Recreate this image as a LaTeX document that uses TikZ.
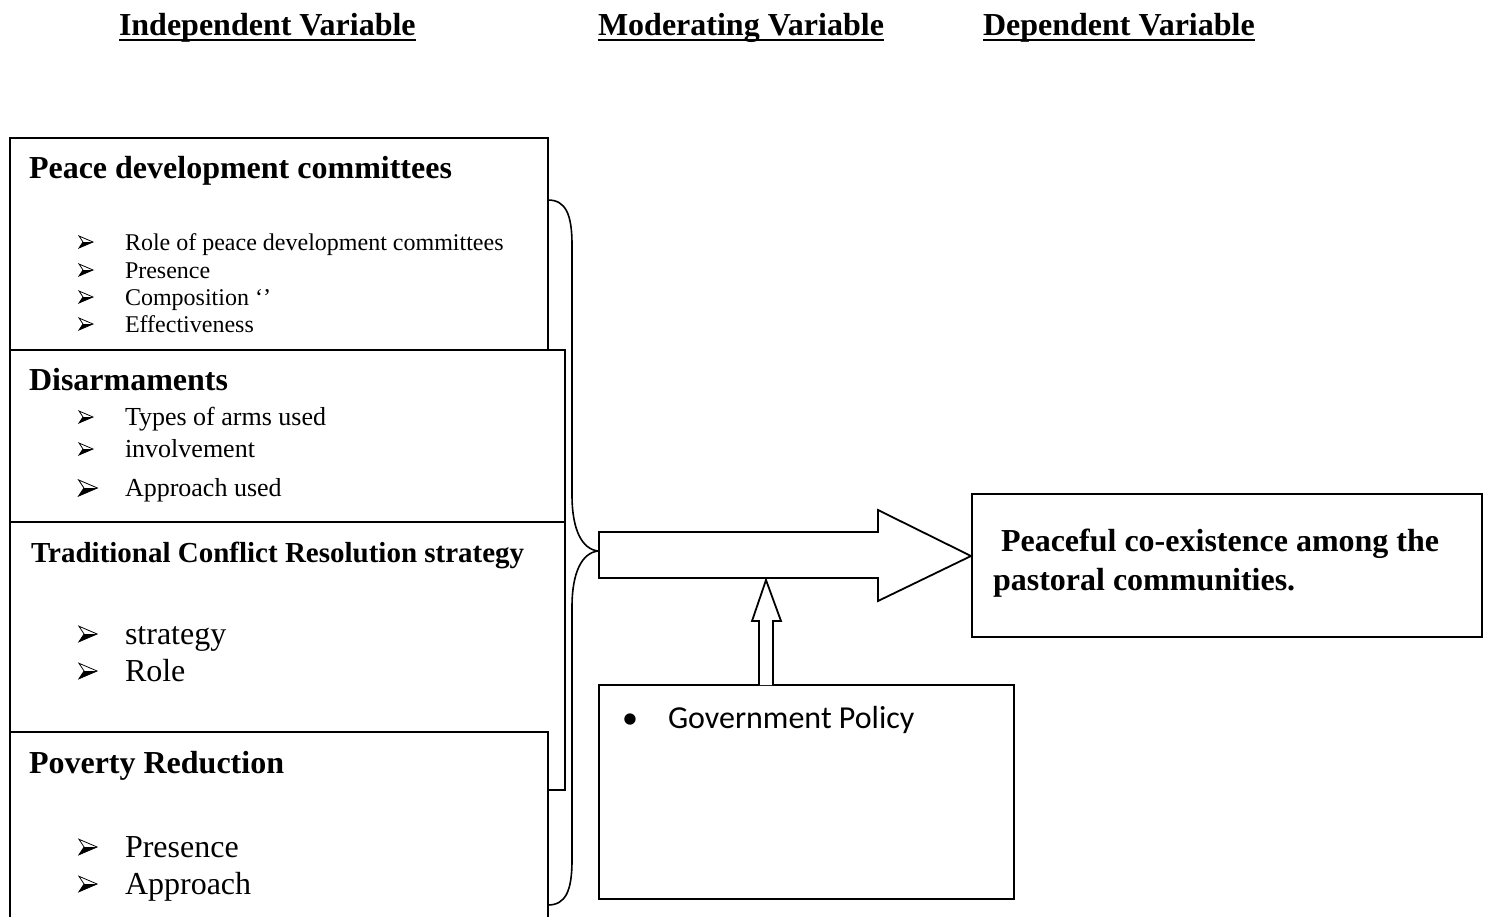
\documentclass[tikz,border=0pt]{standalone}
\usepackage{fontspec}
\setmainfont{Liberation Serif}
\newfontfamily\calfont{Carlito}
\begin{document}
\begin{tikzpicture}[x=0.5pt,y=-0.5pt,
  box/.style={draw=black,line width=1pt,fill=white,anchor=north west,inner sep=0pt,outer sep=0pt},
  txt/.style={anchor=base west,inner sep=0pt,outer sep=0pt},
  head/.style={txt,font=\fontsize{16}{19}\selectfont\bfseries},
  uline/.style={line width=1.2pt},
  ttl/.style={txt,font=\fontsize{16}{19}\selectfont\bfseries},
  itemA/.style={txt,font=\fontsize{12}{14}\selectfont},
  itemB/.style={txt,font=\fontsize{13}{15}\selectfont},
  itemC/.style={txt,font=\fontsize{16}{19}\selectfont},
  bul/.pic={
    \fill[black] (7,0) -- (-3,0) -- (-7,6) -- cycle;
    \draw[black,line width=0.4pt,line join=miter] (7,0) -- (-7,-6) -- (-3,0) -- (-7,6) -- cycle;
  }]
\useasboundingbox (0,0) rectangle (1491,916);
% headers
\node[head] (h1) at (119,35) {Independent Variable};
\node[head] (h2) at (598,35) {Moderating Variable};
\node[head] (h3) at (983,35) {Dependent Variable};
\foreach \h in {h1,h2,h3}
  \draw[uline] ([yshift=-2.6pt]\h.base west) -- ([yshift=-2.6pt]\h.base east);
% boxes
\begin{scope}
\clip (0,0) rectangle (1491,916);
\node[box,minimum width=269pt,minimum height=106pt] (b1) at (10,138) {};
\node[box,minimum width=277.5pt,minimum height=86pt] (b2) at (10,350) {};
\node[box,minimum width=277.5pt,minimum height=134pt] (b3) at (10,522) {};
\node[box,minimum width=269pt,minimum height=96pt] (b4) at (10,732) {};
\end{scope}
% box 1 text
\node[ttl] (t1) at (29,178) {Peace development committees};
\pic at (86,242) {bul};
\pic at (86,270) {bul};
\pic at (86,297) {bul};
\pic at (86,324) {bul};
\node[itemA] (i11) at (125,250) {Role of peace development committees};
\node[itemA] (i12) at (125,278) {Presence};
\node[itemA] (i13) at (125,305) {Composition `'};
\node[itemA] (i14) at (125,332) {Effectiveness};
% box 2 text
\node[ttl] (t2) at (29,390) {Disarmaments};
\pic at (86,417) {bul};
\pic at (86,449) {bul};
\pic[scale=1.35] at (88,488) {bul};
\node[itemB] (i21) at (125,425) {Types of arms used};
\node[itemB] (i22) at (125,457) {involvement};
\node[itemB] (i23) at (125,496) {Approach used};
% box 3 text
\node[ttl,font=\fontsize{14.5}{17}\selectfont\bfseries] (t3) at (31,562) {Traditional Conflict Resolution strategy};
\pic[scale=1.3] at (88,634) {bul};
\pic[scale=1.3] at (88,671) {bul};
\node[itemC] (i31) at (125,644) {strategy};
\node[itemC] (i32) at (125,681) {Role};
% box 4 text
\node[ttl] (t4) at (29,773) {Poverty Reduction};
\pic[scale=1.3] at (88,847) {bul};
\pic[scale=1.3] at (88,884) {bul};
\node[itemC] (i41) at (125,857) {Presence};
\node[itemC] (i42) at (125,894) {Approach};
% brace
\coordinate (btop) at (548,200);
\coordinate (btip) at (598,551);
\coordinate (bbot) at (548,905);
\draw[line width=0.8pt] (btop) .. controls (566,200) and (572,215) .. (572,245)
  -- (572,495) .. controls (572,530) and (582,549) .. (btip)
  .. controls (582,553) and (572,572) .. (572,607)
  -- (572,860) .. controls (572,890) and (566,905) .. (bbot);
% government policy box
\node[box,minimum width=207.5pt,minimum height=107pt] (gov) at (599,685) {};
\node[txt,font=\fontsize{16}{19}\selectfont\calfont] (gb) at (622,728) {•};
\node[txt,font=\fontsize{16}{19}\selectfont\calfont] (gt) at (668,728) {Government Policy};
% dependent box
\node[box,minimum width=255pt,minimum height=71.5pt] (dep) at (972,494) {};
\node[txt,font=\fontsize{16}{19}\selectfont\bfseries] (d1) at (1001,551) {Peaceful co-existence among the};
\node[txt,font=\fontsize{16}{19}\selectfont\bfseries] (d2) at (993,590) {pastoral communities.};
% big block arrow
\draw[line width=0.9pt,line join=miter,fill=white] (599,532) -- (878,532) -- (878,510) -- (971,556) -- (878,601) -- (878,578) -- (599,578) -- cycle;
% small up arrow
\draw[line width=0.9pt,line join=miter,fill=white] (759,685) -- (759,621) -- (752,621) -- (766,580) -- (781,621) -- (773,621) -- (773,685);
\end{tikzpicture}
\end{document}
